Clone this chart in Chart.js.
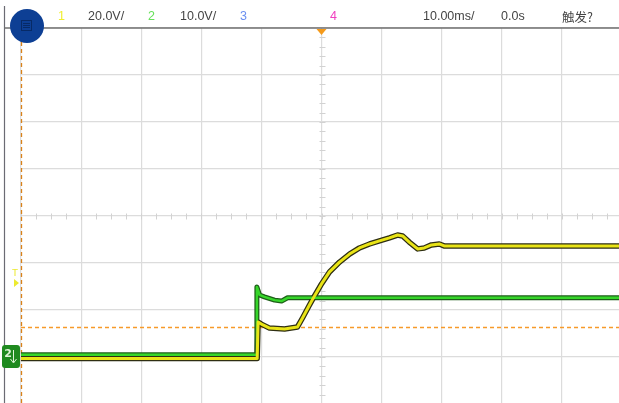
<!DOCTYPE html>
<html lang="zh">
  <head>
    <meta charset="UTF-8" />
    <title>Scope</title>
    <script src="https://cdn.jsdelivr.net/npm/chart.js@4.4.0/dist/chart.umd.min.js"></script>
    <style>
      html, body { margin: 0; padding: 0; background: #fff; overflow: hidden; }
      #wrap { width: 625px; height: 405px; }
    </style>
  </head>
  <body>
    <div id="wrap"><canvas id="scope" width="625" height="405"></canvas></div>
  </body>
  <script>
    // tiempo en ms, voltaje en V
    var ch1Time = [-50, -10.7, -10.55, -10.0, -8.65, -6.15, -4.0, -3.16, -2.0, -1.16, 0, 1.33, 3.0, 4.66, 6.32, 8.0, 9.65, 11.3, 12.65, 13.5, 14.6, 16.0, 17.1, 18.3, 19.6, 20.5, 50];
    var ch1Volts = [0, 0, 15.5, 14.6, 12.9, 12.5, 13.4, 17.2, 22.7, 26.6, 31.7, 36.8, 41.0, 44.4, 47.0, 48.7, 50.0, 51.3, 52.5, 52.1, 49.5, 46.6, 47.0, 48.3, 48.7, 47.8, 47.8];
    var ch2Time = [-50, -10.8, -10.75, -10.3, -9.5, -7.8, -6.65, -5.65, -3.66, 50];
    var ch2Volts = [0, 0, 14.4, 12.7, 12.3, 11.6, 11.4, 12.1, 12.1, 12.1];
    var xTicks = [-50, -40, -30, -20, -10, 0, 10, 20, 30, 40, 50];
    var yTicks = [-4, -3, -2, -1, 0, 1, 2, 3, 4];

    // ajustes del osciloscopio
    var ch1Scale = 20, ch1Pos = -3.03;
    var ch2Scale = 10, ch2Pos = -2.95;
    var trigLevel = 13.4; // V, canal 1

    function toDiv(t, v, scale, pos) {
      var out = [];
      for (var i = 0; i < t.length; i++) {
        out.push({ x: t[i], y: v[i] / scale + pos });
      }
      return out;
    }
    var ch1Data = toDiv(ch1Time, ch1Volts, ch1Scale, ch1Pos);
    var ch2Data = toDiv(ch2Time, ch2Volts, ch2Scale, ch2Pos);

    var scopeDecor = {
      id: "scopeDecor",
      beforeDatasetsDraw(chart) {
        const { ctx, chartArea, scales } = chart;
        const x = scales.x, y = scales.y;
        ctx.save();
        // marcas del centro
        ctx.strokeStyle = "#d2d2d2";
        ctx.lineWidth = 1;
        const y0 = Math.round(y.getPixelForValue(0)) + 0.5;
        for (let t = -50; t <= 50; t += 2.5) {
          const px = Math.round(x.getPixelForValue(t)) + 0.5;
          ctx.beginPath();
          ctx.moveTo(px, y0 - 3);
          ctx.lineTo(px, y0 + 3);
          ctx.stroke();
        }
        const x0 = Math.round(x.getPixelForValue(0)) + 0.5;
        for (let d = -4; d <= 4; d += 0.2) {
          const py = Math.round(y.getPixelForValue(d)) + 0.5;
          ctx.beginPath();
          ctx.moveTo(x0 - 3, py);
          ctx.lineTo(x0 + 3, py);
          ctx.stroke();
        }
        // nivel de disparo
        ctx.strokeStyle = "#f79a2a";
        ctx.lineWidth = 1.3;
        ctx.setLineDash([4, 3]);
        const ty = Math.round(y.getPixelForValue(trigLevel / ch1Scale + ch1Pos)) + 0.5;
        ctx.beginPath();
        ctx.moveTo(chartArea.left, ty);
        ctx.lineTo(chartArea.right, ty);
        ctx.stroke();
        ctx.strokeStyle = "#d9821a";
        ctx.beginPath();
        ctx.moveTo(chartArea.left + 0.5, chartArea.top);
        ctx.lineTo(chartArea.left + 0.5, chartArea.bottom);
        ctx.stroke();
        ctx.restore();
      },
      afterDraw(chart) {
        const { ctx, chartArea, scales } = chart;
        ctx.save();
        // borde izquierdo y linea superior
        ctx.strokeStyle = "#6b6b73";
        ctx.lineWidth = 1.2;
        ctx.beginPath();
        ctx.moveTo(4.5, 6);
        ctx.lineTo(4.5, 405);
        ctx.stroke();
        ctx.strokeStyle = "#707070";
        ctx.lineWidth = 1.5;
        ctx.beginPath();
        ctx.moveTo(4.5, chartArea.top);
        ctx.lineTo(625, chartArea.top);
        ctx.stroke();

        // boton azul
        ctx.fillStyle = "#0d3f94";
        ctx.beginPath();
        ctx.arc(27, 26, 17, 0, Math.PI * 2);
        ctx.fill();
        ctx.strokeStyle = "#072a66";
        ctx.lineWidth = 1;
        ctx.strokeRect(21.5, 20.5, 10, 10);
        ctx.beginPath();
        ctx.moveTo(23, 23.5); ctx.lineTo(30, 23.5);
        ctx.moveTo(23, 25.5); ctx.lineTo(30, 25.5);
        ctx.moveTo(23, 27.5); ctx.lineTo(30, 27.5);
        ctx.stroke();

        // textos de cabecera
        ctx.font = "12.5px 'Liberation Sans', Arial, sans-serif";
        ctx.textBaseline = "middle";
        ctx.textAlign = "left";
        const hy = 17;
        ctx.fillStyle = "#f0ee30"; ctx.fillText("1", 58, hy);
        ctx.fillStyle = "#444"; ctx.fillText("20.0V/", 88, hy);
        ctx.fillStyle = "#66e05a"; ctx.fillText("2", 148, hy);
        ctx.fillStyle = "#444"; ctx.fillText("10.0V/", 180, hy);
        ctx.fillStyle = "#6a8ff0"; ctx.fillText("3", 240, hy);
        ctx.fillStyle = "#f040c0"; ctx.fillText("4", 330, hy);
        ctx.fillStyle = "#444";
        ctx.fillText("10.00ms/", 423, hy);
        ctx.fillText("0.0s", 501, hy);
        ctx.font = "12.5px 'Noto Sans CJK SC', sans-serif";
        ctx.fillText("触发?", 562, hy);

        // marcador del disparo horizontal
        const cx = scales.x.getPixelForValue(0);
        ctx.fillStyle = "#f59a1a";
        ctx.beginPath();
        ctx.moveTo(cx - 5, chartArea.top + 1);
        ctx.lineTo(cx + 5, chartArea.top + 1);
        ctx.lineTo(cx, chartArea.top + 7);
        ctx.closePath();
        ctx.fill();

        // marcador T
        ctx.fillStyle = "#ecea30";
        ctx.font = "9px 'DejaVu Sans', sans-serif";
        ctx.textAlign = "center";
        ctx.fillText("T", 15, 274);
        ctx.beginPath();
        ctx.moveTo(14, 279);
        ctx.lineTo(19, 283);
        ctx.lineTo(14, 287);
        ctx.closePath();
        ctx.fill();

        // marcador canal 2
        ctx.fillStyle = "#1f8a1f";
        ctx.beginPath();
        ctx.roundRect(2, 345, 18, 23, 3);
        ctx.fill();
        ctx.fillStyle = "#dff5d8";
        ctx.font = "bold 11px 'DejaVu Sans', sans-serif";
        ctx.fillText("2", 8, 354);
        ctx.strokeStyle = "#dff5d8";
        ctx.lineWidth = 1;
        ctx.beginPath();
        ctx.moveTo(13.5, 350); ctx.lineTo(13.5, 362);
        ctx.moveTo(10.5, 359); ctx.lineTo(13.5, 363); ctx.lineTo(16.5, 359);
        ctx.stroke();
        ctx.restore();
      },
    };

    function trace(data, color, edge, w) {
      return [
        { data: data, borderColor: color, borderWidth: w, pointRadius: 0, showLine: true, tension: 0, borderJoinStyle: "round", order: 0 },
        { data: data, borderColor: edge, borderWidth: w + 2.5, pointRadius: 0, showLine: true, tension: 0, borderJoinStyle: "round", order: 1 },
      ];
    }

    var datasets = []
      .concat(trace(ch1Data, "#e9e416", "#2e2e12", 3))
      .concat(trace(ch2Data, "#36d62a", "#1d5e18", 2.5));

    var noSize = function (s) { s.width = 0; s.height = 0; };

    new Chart(document.getElementById("scope"), {
      type: "scatter",
      data: { datasets: datasets },
      options: {
        responsive: false,
        animation: false,
        layout: { padding: { left: 21, top: 28, right: 3, bottom: 1 } },
        plugins: { legend: { display: false }, tooltip: { enabled: false } },
        scales: {
          x: {
            type: "linear",
            min: -50,
            max: 50,
            afterFit: noSize,
            afterBuildTicks: function (s) { s.ticks = xTicks.map(function (v) { return { value: v }; }); },
            ticks: { display: false },
            border: { display: false },
            grid: { color: "#dcdcdc", lineWidth: 1.2, drawTicks: false },
          },
          y: {
            min: -4,
            max: 4,
            afterFit: noSize,
            afterBuildTicks: function (s) { s.ticks = yTicks.map(function (v) { return { value: v }; }); },
            ticks: { display: false },
            border: { display: false },
            grid: { color: "#dcdcdc", lineWidth: 1.2, drawTicks: false },
          },
        },
      },
      plugins: [scopeDecor],
    });
  </script>
</html>
